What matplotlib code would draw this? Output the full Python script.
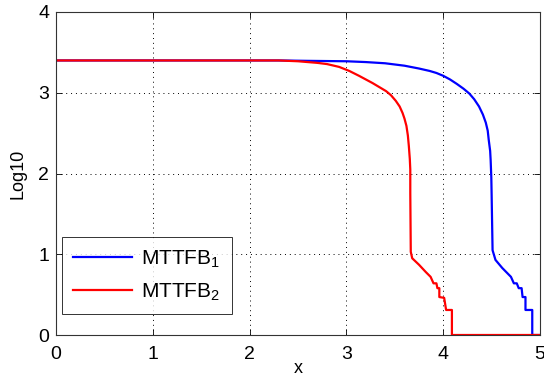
import matplotlib
matplotlib.use("Agg")
import matplotlib.pyplot as plt

plt.rcParams['font.family'] = ['Liberation Sans', 'DejaVu Sans']
plt.rcParams['mathtext.default'] = 'regular'

# MTTFB_1 (blue)
x1 = [0.0, 2.30, 2.60, 3.00, 3.20, 3.40, 3.60, 3.75, 3.86, 3.93, 4.00, 4.07,
      4.14, 4.21, 4.27, 4.32, 4.37, 4.41, 4.44, 4.46, 4.47, 4.485, 4.49, 4.497,
      4.50, 4.51, 4.54, 4.61, 4.70, 4.73, 4.76, 4.78, 4.81, 4.82, 4.85, 4.85,
      4.92, 4.92, 5.00]
y1 = [3.40, 3.40, 3.395, 3.39, 3.38, 3.365, 3.335, 3.30, 3.27, 3.245, 3.21, 3.165,
      3.11, 3.05, 2.99, 2.92, 2.83, 2.73, 2.63, 2.53, 2.42, 2.28, 2.17, 1.95,
      1.76, 1.05, 0.93, 0.83, 0.72, 0.64, 0.64, 0.58, 0.58, 0.47, 0.47, 0.31,
      0.31, 0.00, 0.00]

# MTTFB_2 (red)
x2 = [0.0, 2.30, 2.50, 2.70, 2.80, 2.925, 3.03, 3.13, 3.20, 3.27, 3.34, 3.41,
      3.46, 3.51, 3.55, 3.58, 3.60, 3.62, 3.635, 3.645, 3.655, 3.66, 3.66,
      3.665, 3.68, 3.75, 3.82, 3.87, 3.90, 3.93, 3.94, 3.96, 3.96, 4.01, 4.03,
      4.09, 4.09, 5.00]
y2 = [3.40, 3.40, 3.39, 3.37, 3.355, 3.32, 3.27, 3.21, 3.165, 3.12, 3.07, 3.02,
      2.97, 2.90, 2.83, 2.75, 2.68, 2.59, 2.47, 2.34, 2.18, 2.05, 1.76,
      1.03, 0.95, 0.87, 0.78, 0.72, 0.64, 0.64, 0.58, 0.58, 0.47, 0.46, 0.31,
      0.31, 0.00, 0.00]

labels = ['MTTFB$_1$', 'MTTFB$_2$']
xticks = [0, 1, 2, 3, 4, 5]
yticks = [0, 1, 2, 3, 4]

fig = plt.figure(figsize=(5.44, 3.77), dpi=100)
ax = fig.add_axes([56 / 544, 1 - 335 / 377, (540 - 56) / 544, (335 - 12) / 377])

ax.plot(x1, y1, color='#0000ff', lw=1.6, label=labels[0])
ax.plot(x2, y2, color='#ff0000', lw=1.6, label=labels[1])

ax.set_xlim(0, 5)
ax.set_ylim(0, 4)
ax.set_xticks(xticks)
ax.set_yticks(yticks)
ax.tick_params(direction='in', length=4, width=0.6, top=True, right=True,
               labelsize=14)
ax.tick_params(axis='x', pad=8)
ax.tick_params(axis='y', pad=5)
ax.grid(True, color='black', linestyle=(0, (1, 4)), linewidth=0.7)
for s in ax.spines.values():
    s.set_linewidth(0.8)
    s.set_color('#333333')

ax.set_xlabel('x', fontsize=13, labelpad=-2)
ax.set_ylabel('Log10', fontsize=13, labelpad=8)

leg = ax.legend(loc='lower left', bbox_to_anchor=(0.012, 0.065), fontsize=15,
                frameon=True, fancybox=False, edgecolor='black',
                handlelength=2.8, handletextpad=0.45, borderpad=0.55,
                labelspacing=0.55, borderaxespad=0)
leg.get_frame().set_linewidth(0.7)

fig.savefig('out.png', dpi=100)
